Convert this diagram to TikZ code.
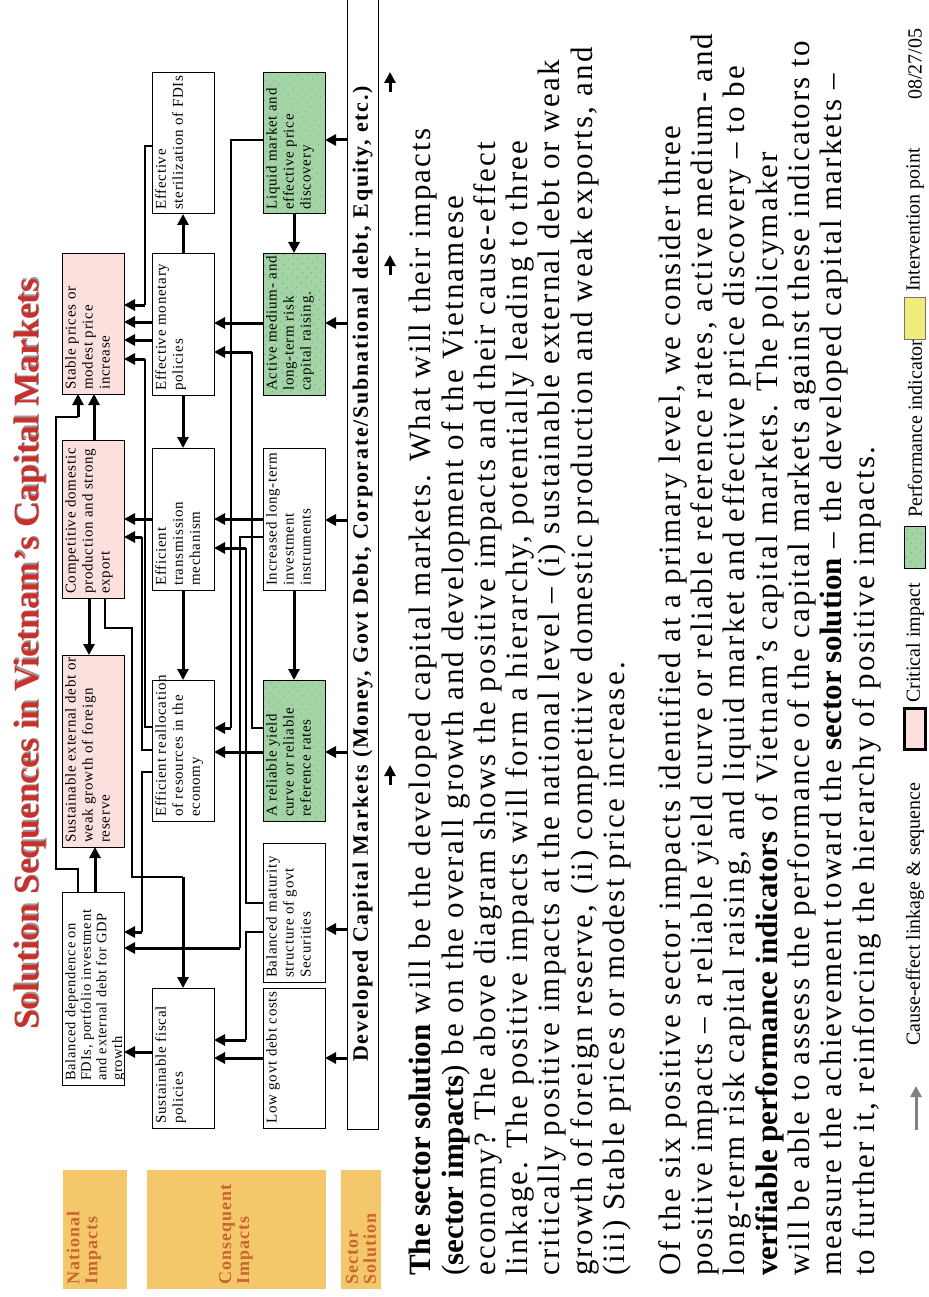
\documentclass[tikz,border=0pt]{standalone}
\usepackage{fontspec}
\setmainfont{Liberation Serif}
\newfontfamily\bandfont[LetterSpace=6]{Liberation Serif}
\newfontfamily\bodyfont[LetterSpace=7]{Liberation Serif}
\newfontfamily\boxfont[LetterSpace=5]{Liberation Serif}
\newfontfamily\barfont[LetterSpace=8]{Liberation Serif}
\newcommand\plainbold[1]{{\normalfont\bfseries #1}}
\usetikzlibrary{arrows.meta,patterns.meta}
\definecolor{pinkfill}{HTML}{FCE0DE}
\definecolor{greenfill}{HTML}{A2D4A5}
\definecolor{bandfill}{HTML}{F5C76B}
\definecolor{bandtext}{HTML}{C8662E}
\definecolor{titlered}{HTML}{C8302C}
\definecolor{yellowfill}{HTML}{F1EC7A}
\begin{document}
\begin{tikzpicture}[x=1pt,y=-1pt,
  box/.style={draw=black, line width=1pt, fill=white, minimum width=62pt, inner sep=0pt, outer sep=0pt},
  pinkbox/.style={box, fill=pinkfill},
  greenbox/.style={box, fill=greenfill, postaction={pattern={Dots[distance=6.5pt,radius=0.55pt,angle=45]}, pattern color=black!75}},
  btext/.style={rotate=90, anchor=north west, align=left, inner sep=0pt, font=\boxfont\fontsize{15}{17}\selectfont},
  thk/.style={line width=3pt, -{Triangle[length=11pt,width=11pt]}},
  thn/.style={line width=1.1pt},
  band/.style={fill=bandfill, inner sep=0pt, outer sep=0pt},
  bandlabel/.style={rotate=90, anchor=west, align=left, inner sep=0pt, text=bandtext, font=\bandfont\bfseries\fontsize{18}{18}\selectfont},
  legtext/.style={rotate=90, anchor=west, inner sep=0pt, font=\fontsize{20}{20}\selectfont},
]
\useasboundingbox (0,0) rectangle (928,1297);
\begin{scope}
\clip (0,0) rectangle (928,1297);

% title with its shadow
\node[rotate=90, anchor=base west, inner sep=0pt, text=black!40, font=\bfseries\fontsize{35.5}{36}\selectfont] at (39.5,1028.5) {Solution Sequences in Vietnam\kern1.5pt’s Capital Markets};
\node[rotate=90, anchor=base west, inner sep=0pt, text=titlered, font=\bfseries\fontsize{35.5}{36}\selectfont] (title) at (38,1030) {Solution Sequences in Vietnam\kern1.5pt’s Capital Markets};

% national impacts
\node[pinkbox, minimum height=141pt] (stable) at (93,323.5) {};
\node[pinkbox, minimum height=158pt] (compet) at (93,519) {};
\node[pinkbox, minimum height=192pt] (sustext) at (93,751) {};
\node[box, minimum height=193pt] (baldep) at (93,988.5) {};

% consequent impacts
\node[box, minimum height=141pt] (steril) at (183,143.5) {};
\node[box, minimum height=142pt] (monet) at (183,324) {};
\node[box, minimum height=142pt] (transm) at (183,519) {};
\node[box, minimum height=141pt] (realloc) at (183,750.5) {};
\node[box, minimum height=140pt] (fiscal) at (183,1058) {};

% performance row
\node[greenbox, minimum height=141pt] (liquid) at (294,143.5) {};
\node[greenbox, minimum height=142pt] (active) at (294,324) {};
\node[box, minimum height=142pt] (incr) at (294,519) {};
\node[greenbox, minimum height=141pt] (yield) at (294,750.5) {};
\node[box, minimum height=139pt] (balmat) at (294,912.5) {};
\node[box, minimum height=140pt] (lowdebt) at (294,1058) {};

% sector solution bar
\node[box, minimum width=31pt, minimum height=1149pt] (sector) at (362.5,554.5) {};
\node[rotate=90, anchor=west, inner sep=0pt, font=\barfont\bfseries\fontsize{22}{22}\selectfont] (sectortext) at ([shift={(0,-67)}]sector.south) {Developed Capital Markets (Money, Govt Debt, Corporate/Subnational debt, Equity, etc.)};

% box texts
\node[btext] at ([shift={(3,-4)}]stable.south west) {Stable prices or\\modest price\\increase};
\node[btext] at ([shift={(3,-4)}]compet.south west) {Competitive domestic\\production and strong\\export};
\node[btext] at ([shift={(3,-4)}]sustext.south west) {Sustainable external debt or\\weak growth of foreign\\reserve};
\node[btext, font=\boxfont\fontsize{14.5}{15.6}\selectfont] at ([shift={(3,-4)}]baldep.south west) {Balanced dependence on\\FDIs, portfolio investment\\and external debt for GDP\\growth};
\node[btext] at ([shift={(3,-4)}]steril.south west) {Effective\\sterilization of FDIs};
\node[btext] at ([shift={(3,-4)}]monet.south west) {Effective monetary\\policies};
\node[btext] at ([shift={(3,-4)}]transm.south west) {Efficient\\transmission\\mechanism};
\node[btext] at ([shift={(3,-4)}]realloc.south west) {Efficient reallocation\\of resources in the\\economy};
\node[btext] at ([shift={(3,-4)}]fiscal.south west) {Sustainable fiscal\\policies};
\node[btext] at ([shift={(3,-4)}]liquid.south west) {Liquid market and\\effective price\\discovery};
\node[btext] at ([shift={(3,-4)}]active.south west) {Active medium- and\\long-term risk\\capital raising.};
\node[btext] at ([shift={(3,-4)}]incr.south west) {Increased long-term\\investment\\instruments};
\node[btext] at ([shift={(3,-4)}]yield.south west) {A reliable yield\\curve or reliable\\reference rates};
\node[btext] at ([shift={(3,-4)}]balmat.south west) {Balanced maturity\\structure of govt\\Securities};
\node[btext] at ([shift={(3,-4)}]lowdebt.south west) {Low govt debt costs};

% sector bar feeds the performance row
\foreach \n/\yy in {liquid/140, active/323, incr/520, yield/752, balmat/929, lowdebt/1058}
  \draw[thk] (sector.west |- 0,\yy) -- (\n.east |- 0,\yy);

% performance row links
\draw[thk] (liquid.south) -- (active.north);
\draw[thk] (incr.south) -- (yield.north);
\draw[thk] (active.west |- 0,323) -- (monet.east |- 0,323);
\draw[thk] (incr.west |- 0,519) -- (transm.east |- 0,519);
\draw[thk] (yield.west |- 0,752) -- (realloc.east |- 0,752);
\draw[thk] (lowdebt.west |- 0,1058) -- (fiscal.east |- 0,1058);
\draw[thn] (liquid.west |- 0,140) -| (231,728);
\draw[thk] (231,728) -- (realloc.east |- 0,728);
\draw[thn] (yield.west |- 0,728) -| (252,352);
\draw[thk] (252,352) -- (monet.east |- 0,352);
\draw[thn] (incr.west |- 0,537) -| (240,948);
\draw[thk] (240,948) -- (baldep.east |- 0,948);
\draw[thn] (balmat.west |- 0,903) -| (246,548);
\draw[thk] (246,548) -- (transm.east |- 0,548);
\draw[thn] (balmat.west |- 0,932) -| (246,1040);
\draw[thk] (246,1040) -- (fiscal.east |- 0,1040);

% consequent row links
\draw[thk] (monet.north) -- (steril.south);
\draw[thk] (monet.south) -- (transm.north);
\draw[thk] (transm.south) -- (realloc.north);
\draw[thk] (monet.west |- 0,322) -- (stable.east |- 0,322);
\draw[thk] (monet.west |- 0,340) -- (stable.east |- 0,340);
\draw[thn] (steril.west |- 0,146) -| (145,305);
\draw[thk] (145,305) -- (stable.east |- 0,305);
\draw[thn] (realloc.west |- 0,727) -| (145,359);
\draw[thk] (145,359) -- (stable.east |- 0,359);
\draw[thk] (transm.west |- 0,519) -- (compet.east |- 0,519);
\draw[thn] (realloc.west |- 0,750) -| (142,537);
\draw[thk] (142,537) -- (compet.east |- 0,537);
\draw[thn] (realloc.west |- 0,772) -| (142,932);
\draw[thk] (142,932) -- (baldep.east |- 0,932);
\draw[thk] (fiscal.west |- 0,1052) -- (baldep.east |- 0,1052);

% national row links
\draw[thk] (compet.north -| 94,0) -- (stable.south -| 94,0);
\draw[thk] (compet.south -| 89,0) -- (sustext.north -| 89,0);
\draw[thk] (baldep.north -| 95,0) -- (sustext.south -| 95,0);
\draw[thn] (compet.south -| 105,0) |- (132,628) |- (183,877);
\draw[thk] (183,877) -- (fiscal.north);
\draw[thn] (baldep.north -| 78,0) |- (56,869) |- (78,417);
\draw[thk] (78,417) -- (stable.south -| 78,0);

% small arrows under the bar
\coordinate (u1) at (390,92); \coordinate (u1e) at (390,72);
\coordinate (u2) at (390,275); \coordinate (u2e) at (390,255);
\coordinate (u3) at (390,785); \coordinate (u3e) at (390,765);
\draw[thk] (u1) -- (u1e);
\draw[thk] (u2) -- (u2e);
\draw[thk] (u3) -- (u3e);

% row labels
\node[band, minimum width=64pt, minimum height=119pt] (natband) at (95,1229.5) {};
\node[band, minimum width=179pt, minimum height=119pt] (conband) at (236.5,1229.5) {};
\node[band, minimum width=40pt, minimum height=119pt] (secband) at (361,1229.5) {};
\node[bandlabel] at (84,1285) {National\\Impacts};
\node[bandlabel] at (236,1285) {Consequent\\Impacts};
\node[bandlabel] at (361,1285) {Sector\\Solution};

% body text
\node[rotate=90, anchor=north west, align=left, inner sep=0pt, font=\bodyfont\fontsize{31}{32.3}\selectfont] (body) at (409,1276) {%
\plainbold{The sector solution} will be the developed capital markets.  What will their impacts\\
(\plainbold{sector impacts}) be on the overall growth and development of the Vietnamese\\
economy?  The above diagram shows the positive impacts and their cause-effect\\
linkage.  The positive impacts will form a hierarchy, potentially leading to three\\
critically positive impacts at the national level – (i) sustainable external debt or weak\\
growth of foreign reserve, (ii) competitive domestic production and weak exports, and\\
(iii) Stable prices or modest price increase.\\[23.5pt]
Of the six positive sector impacts identified at a primary level, we consider three\\
positive impacts – a reliable yield curve or reliable reference rates, active medium- and\\
long-term risk capital raising, and liquid market and effective price discovery – to be\\
\plainbold{verifiable performance indicators} of Vietnam’s capital markets.  The policymaker\\
will be able to assess the performance of the capital markets against these indicators to\\
measure the achievement toward the \plainbold{sector solution} – the developed capital markets –\\
to further it, reinforcing the hierarchy of positive impacts.};

% legend
\coordinate (la1) at (916,1130); \coordinate (la2) at (916,1086);
\draw[line width=3pt, draw=black!50, -{Triangle[length=11pt,width=11pt]}] (la1) -- (la2);
\node[legtext] at (915,1046) {Cause-effect linkage \& sequence};
\node[box, fill=pinkfill, line width=2.5pt, minimum width=21pt, minimum height=41pt] (legpink) at (915,729) {};
\node[legtext] at (915,703) {Critical impact};
\node[greenbox, minimum width=21pt, minimum height=42pt] (leggreen) at (915,547) {};
\node[legtext] at (915,518) {Performance indicator};
\node[box, fill=yellowfill, draw=black!55, minimum width=21pt, minimum height=42pt] (legyellow) at (915,318) {};
\node[legtext] at (915,292) {Intervention point};
\node[legtext] at (915,100) {08/27/05};
\end{scope}
\end{tikzpicture}
\end{document}
